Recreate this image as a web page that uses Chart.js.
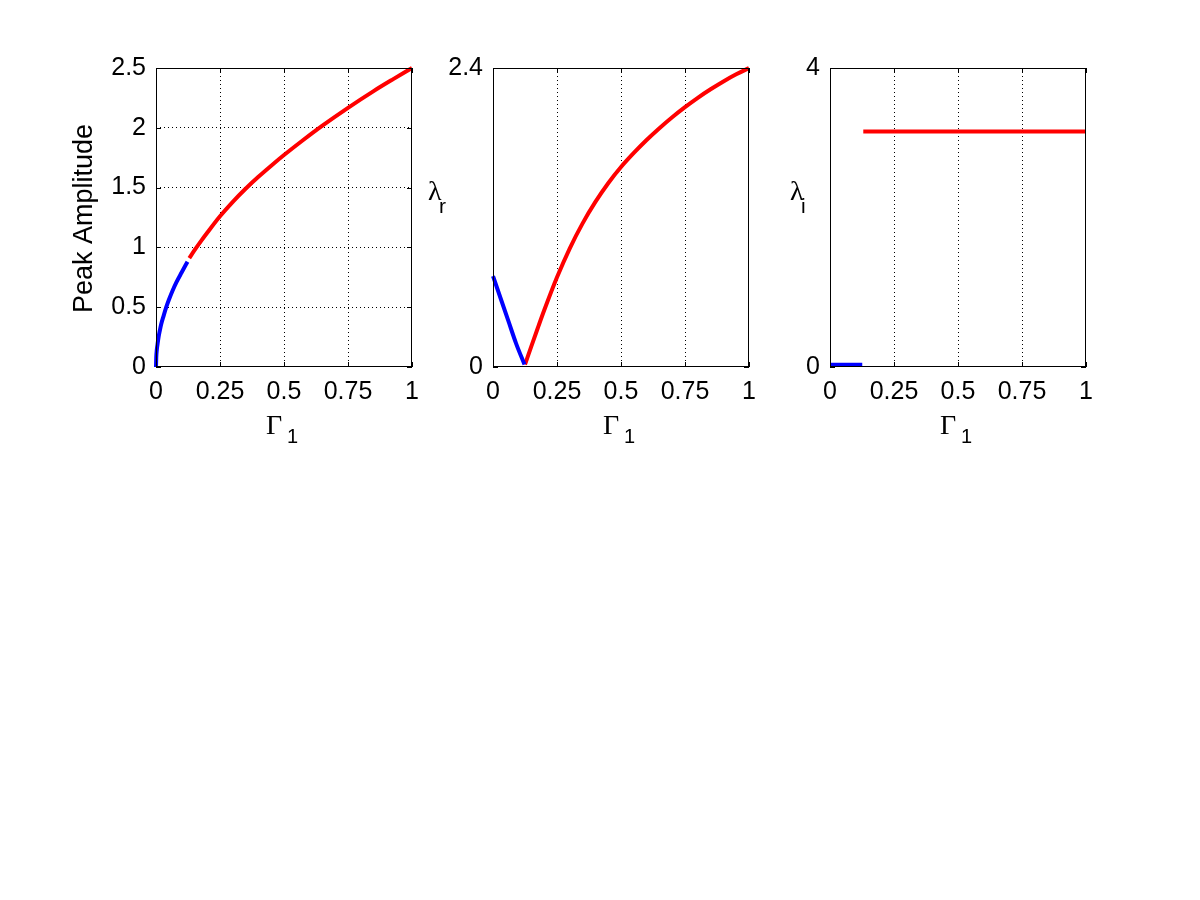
<!DOCTYPE html>
<html><head><meta charset="utf-8">
<script src="https://cdn.jsdelivr.net/npm/chart.js@4.4.0/dist/chart.umd.min.js"></script>
<style>
html,body{margin:0;padding:0;background:#fff;width:1200px;height:900px;overflow:hidden;}
.wrap{position:absolute;top:0;width:400px;height:460px;}
canvas{display:block;}
</style></head><body>
<div class="wrap" style="left:36px"><canvas id="c1" width="400" height="460"></canvas></div>
<div class="wrap" style="left:373px"><canvas id="c2" width="400" height="460"></canvas></div>
<div class="wrap" style="left:710px"><canvas id="c3" width="400" height="460"></canvas></div>
<script>
// ---- data ----
const xTicks = [0, 0.25, 0.5, 0.75, 1];
const xTickLabels = ['0', '0.25', '0.5', '0.75', '1'];

const ampTicks = [0, 0.5, 1, 1.5, 2, 2.5];
const ampTickLabels = ['0', '0.5', '1', '1.5', '2', '2.5'];
const lrTicks = [0, 2.4];
const lrTickLabels = ['0', '2.4'];
const liTicks = [0, 4];
const liTickLabels = ['0', '4'];

// Panel 1: peak amplitude
const ampBlueX = [0, 0.001, 0.003, 0.006, 0.01, 0.015, 0.02, 0.03, 0.04, 0.05, 0.065, 0.08, 0.1, 0.123];
const ampBlueY = [0, 0.08, 0.14, 0.19, 0.25, 0.305, 0.355, 0.43, 0.50, 0.56, 0.64, 0.71, 0.79, 0.88];
const ampRedX = [0.13, 0.15, 0.175, 0.2, 0.25, 0.3, 0.35, 0.4, 0.45, 0.5, 0.575, 0.65, 0.75, 0.85, 0.925, 1];
const ampRedY = [0.91, 0.975, 1.05, 1.122, 1.26, 1.381, 1.49, 1.59, 1.683, 1.772, 1.898, 2.018, 2.167, 2.307, 2.405, 2.5];

// Panel 2: lambda_r
const lrBlueX = [0, 0.03, 0.06, 0.09, 0.123];
const lrBlueY = [0.73, 0.55, 0.37, 0.19, 0.02];
const lrRedX = [0.125, 0.15, 0.175, 0.2, 0.25, 0.3, 0.35, 0.4, 0.45, 0.5, 0.55, 0.6, 0.65, 0.7, 0.75, 0.8, 0.85, 0.9, 0.95, 1];
const lrRedY = [0.02, 0.168, 0.313, 0.455, 0.72, 0.953, 1.153, 1.325, 1.475, 1.605, 1.718, 1.822, 1.917, 2.005, 2.086, 2.161, 2.229, 2.292, 2.349, 2.40];

// Panel 3: lambda_i
const liBlueX = [0, 0.126];
const liBlueY = [0.03, 0.03];
const liRedX = [0.13, 1];
const liRedY = [3.15, 3.15];

// ---- helpers ----
const BLUE = '#0000ff', RED = '#ff0000';
const tickFont = {family: '"Liberation Sans", Arial, sans-serif', size: 25};

function pts(xs, ys) { return xs.map((x, i) => ({x: x, y: ys[i]})); }

const boxPlugin = {
  id: 'boxAndLabels',
  afterDraw(chart, args, o) {
    const ctx = chart.ctx, a = chart.chartArea;
    const xs = chart.scales.x, ys = chart.scales.y;
    ctx.save();
    ctx.strokeStyle = '#000';
    ctx.lineWidth = 1;
    ctx.setLineDash([]);
    ctx.strokeRect(a.left + 0.5, a.top + 0.5, a.right - a.left - 1, a.bottom - a.top - 1);
    // inward tick marks
    ctx.beginPath();
    xs.ticks.forEach(t => {
      const p = Math.round(xs.getPixelForValue(t.value)) + 0.5;
      ctx.moveTo(p, a.bottom); ctx.lineTo(p, a.bottom - 5);
      ctx.moveTo(p, a.top); ctx.lineTo(p, a.top + 5);
    });
    ys.ticks.forEach(t => {
      const p = Math.round(ys.getPixelForValue(t.value)) + 0.5;
      ctx.moveTo(a.left, p); ctx.lineTo(a.left + 5, p);
      ctx.moveTo(a.right, p); ctx.lineTo(a.right - 5, p);
    });
    ctx.stroke();
    // x label: Gamma_1
    const cx = (a.left + a.right) / 2;
    ctx.fillStyle = '#000';
    ctx.textAlign = 'left';
    ctx.textBaseline = 'alphabetic';
    ctx.font = '28px "Liberation Serif", "Times New Roman", serif';
    ctx.fillText('Γ', cx - 18, a.bottom + 67);
    ctx.font = '20px "Liberation Sans", Arial, sans-serif';
    ctx.fillText('1', cx + 3, a.bottom + 76);
    // y label
    if (o.yText) {
      ctx.save();
      ctx.translate(o.yX, (a.top + a.bottom) / 2 + 1);
      ctx.rotate(-Math.PI / 2);
      ctx.textAlign = 'center';
      ctx.textBaseline = 'middle';
      ctx.font = '27px "Liberation Sans", Arial, sans-serif';
      ctx.fillText(o.yText, 0, 0);
      ctx.restore();
    }
    if (o.lambda) {
      ctx.font = '28px "Liberation Serif", "Times New Roman", serif';
      ctx.fillText('λ', a.left - o.lamOff, 200);
      ctx.font = '21px "Liberation Sans", Arial, sans-serif';
      ctx.fillText(o.lambda, a.left - o.lamOff + 11, 213);
    }
    ctx.restore();
  }
};

function makeChart(id, blue, red, yTicks, yTickLabels, yMax, hGrid, labelOpts) {
  const interiorX = v => (v > 0 && v < 1) ? '#000' : 'rgba(0,0,0,0)';
  const interiorY = v => (hGrid && v > 0 && v < yMax) ? '#000' : 'rgba(0,0,0,0)';
  return new Chart(document.getElementById(id), {
    type: 'scatter',
    data: {
      datasets: [
        {data: blue, showLine: true, borderColor: BLUE, backgroundColor: BLUE, borderWidth: 4, pointRadius: 0, clip: false, cubicInterpolationMode: 'monotone', borderCapStyle: 'butt', borderJoinStyle: 'round'},
        {data: red, showLine: true, borderColor: RED, backgroundColor: RED, borderWidth: 4, pointRadius: 0, clip: false, cubicInterpolationMode: 'monotone', borderCapStyle: 'butt', borderJoinStyle: 'round'}
      ]
    },
    options: {
      responsive: false,
      animation: false,
      devicePixelRatio: 1,
      layout: {padding: {left: 0, right: 24, top: 68, bottom: 0}},
      plugins: {legend: {display: false}, tooltip: {enabled: false}, boxAndLabels: labelOpts},
      scales: {
        x: {
          type: 'linear', min: 0, max: 1,
          afterBuildTicks: s => { s.ticks = xTicks.map(v => ({value: v})); },
          afterFit: s => { s.height = 93; },
          ticks: {font: tickFont, color: '#000', padding: 10, maxRotation: 0,
                  callback: (v, i) => xTickLabels[xTicks.indexOf(v)]},
          grid: {drawTicks: false, tickLength: 0, lineWidth: 1, color: c => interiorX(c.tick ? c.tick.value : -1)},
          border: {display: false, dash: [1, 3]}
        },
        y: {
          type: 'linear', min: 0, max: yMax,
          afterBuildTicks: s => { s.ticks = yTicks.map(v => ({value: v})); },
          afterFit: s => { s.width = 120; },
          ticks: {font: tickFont, color: '#000', padding: 10,
                  callback: (v) => yTickLabels[yTicks.indexOf(v)]},
          grid: {drawTicks: false, tickLength: 0, lineWidth: 1, color: c => interiorY(c.tick ? c.tick.value : -1)},
          border: {display: false, dash: [1, 3]}
        }
      }
    },
    plugins: [boxPlugin]
  });
}

makeChart('c1', pts(ampBlueX, ampBlueY), pts(ampRedX, ampRedY), ampTicks, ampTickLabels, 2.5, true,
  {yText: 'Peak Amplitude', yX: 49});
makeChart('c2', pts(lrBlueX, lrBlueY), pts(lrRedX, lrRedY), lrTicks, lrTickLabels, 2.4, false,
  {lambda: 'r', lamOff: 65});
makeChart('c3', pts(liBlueX, liBlueY), pts(liRedX, liRedY), liTicks, liTickLabels, 4, false,
  {lambda: 'i', lamOff: 40});
</script>
</body></html>
